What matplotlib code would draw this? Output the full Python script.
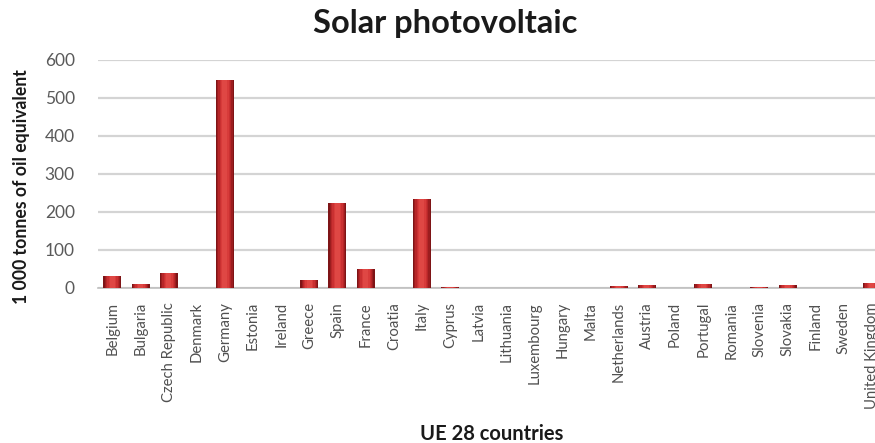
import matplotlib
matplotlib.use("Agg")
import matplotlib.pyplot as plt
import numpy as np

countries = ["Belgium", "Bulgaria", "Czech Republic", "Denmark", "Germany", "Estonia",
             "Ireland", "Greece", "Spain", "France", "Croatia", "Italy", "Cyprus", "Latvia",
             "Lithuania", "Luxembourg", "Hungary", "Malta", "Netherlands", "Austria",
             "Poland", "Portugal", "Romania", "Slovenia", "Slovakia", "Finland", "Sweden",
             "United Kingdom"]
ktoe = [32, 10, 39, 1, 548, 0, 0, 20, 224, 50, 1, 235, 2, 0,
        1, 1, 1, 1, 5, 8, 1, 10, 1, 2, 8, 1, 1, 13]
yticks = [0, 100, 200, 300, 400, 500, 600]

plt.rcParams['font.family'] = ['Lato', 'DejaVu Sans']

fig = plt.figure(figsize=(8.75, 4.43), dpi=100)
ax = fig.add_axes([98.4 / 875, 155 / 443, 787.6 / 875, 228 / 443])

x = np.arange(len(countries))
width = 0.64
# rounded-column look: nested bars from a dark rim to a bright core
shades = ["#7e1416", "#9c1d1f", "#b72628", "#c93031", "#d73b3a", "#df4744"]
fracs = [1.0, 0.86, 0.72, 0.58, 0.44, 0.28]
for i, (c, f) in enumerate(zip(shades, fracs)):
    ax.bar(x, ktoe, width=width * f, color=c, linewidth=0, zorder=3 + i)

ax.set_xlim(-0.5, len(countries) - 0.5)
ax.set_ylim(0, 600)
ax.set_yticks(yticks)
ax.set_yticklabels([str(v) for v in yticks], fontsize=12.5, color="#5a5a5a")
ax.yaxis.grid(True, color="#d4d4d4", linewidth=1.6, zorder=0)
ax.set_axisbelow(True)

ax.set_xticks(x)
ax.set_xticklabels(countries, rotation=90, fontsize=10.7, color="#505050")
ax.tick_params(axis="x", length=0, pad=10)
ax.tick_params(axis="y", length=0, pad=17)

for side in ("top", "right", "left"):
    ax.spines[side].set_visible(False)
ax.spines["bottom"].set_color("#bfbfbf")
ax.spines["bottom"].set_linewidth(1.2)

fig.text(22 / 875, 1 - 187 / 443, "1 000 tonnes of oil equivalent", rotation=90,
         ha="center", va="center", fontsize=12.7, fontweight="bold", color="#1a1a1a")
fig.text(492 / 875, 1 - 440 / 443, "UE 28 countries", ha="center", va="baseline",
         fontsize=14.5, fontweight="bold", color="#1a1a1a")
fig.text(445 / 875, 1 - 33 / 443, "Solar photovoltaic", ha="center", va="baseline",
         fontsize=23.5, fontweight="bold", color="#1a1a1a")

fig.savefig("out.png", dpi=100)
